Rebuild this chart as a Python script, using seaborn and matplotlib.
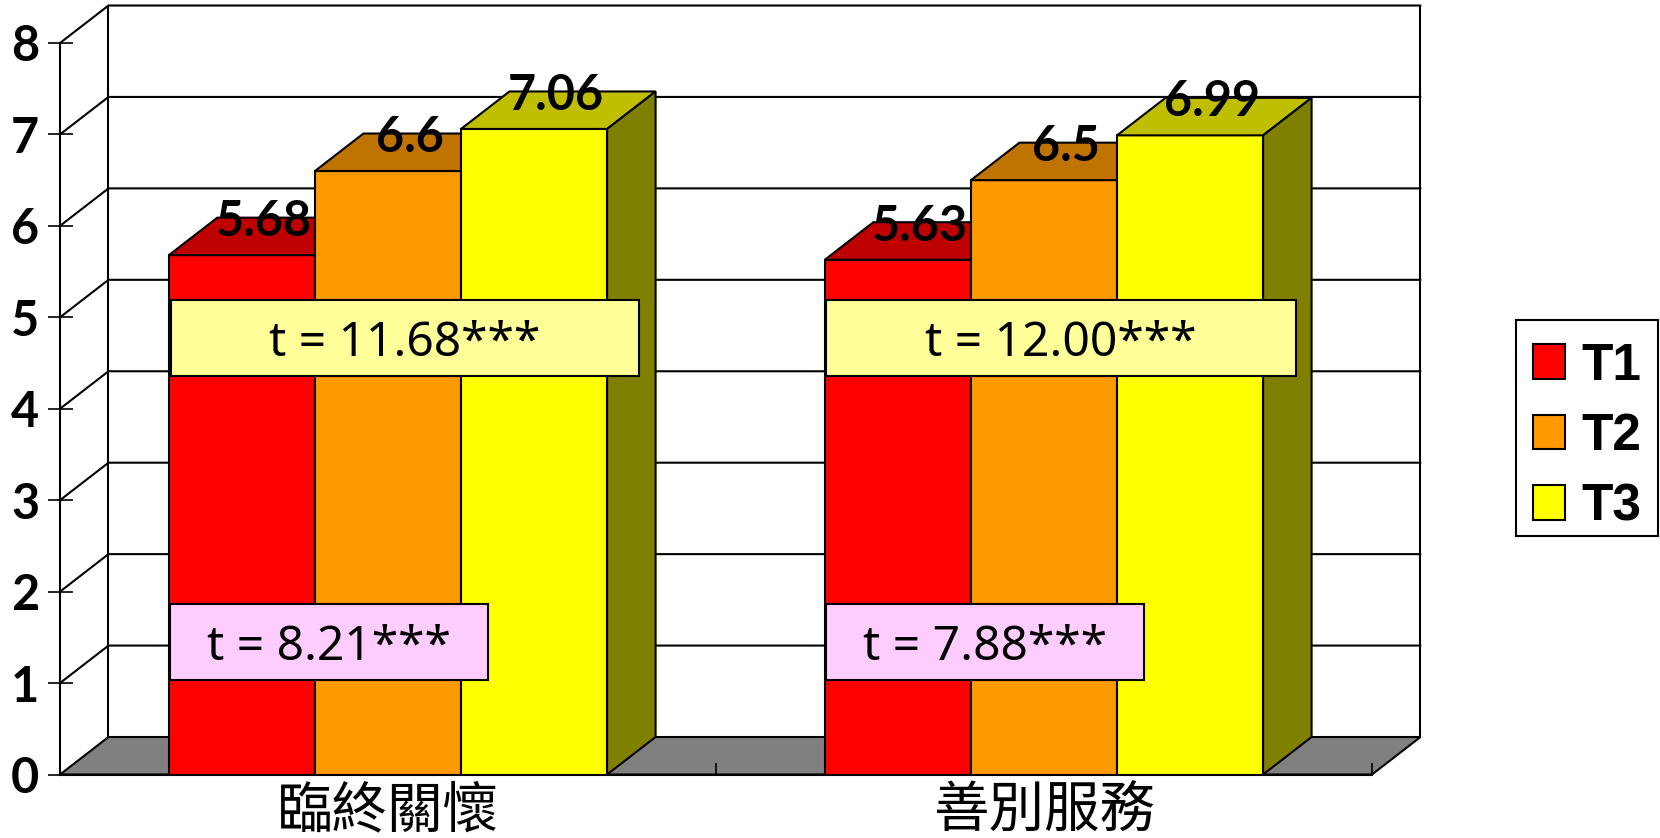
import pandas as pd
import seaborn as sns
import matplotlib.pyplot as plt
from matplotlib.patches import Polygon, Rectangle

categories = ['臨終關懷', '善別服務']
times = ['T1', 'T2', 'T3']
t1_scores = [5.68, 5.63]
t2_scores = [6.6, 6.5]
t3_scores = [7.06, 6.99]
y_ticks = [0, 1, 2, 3, 4, 5, 6, 7, 8]
upper_tests = ['t = 11.68***', 't = 12.00***']
lower_tests = ['t = 8.21***', 't = 7.88***']

W, H = 1660, 838
# 3d depth of the chart, in data units
DX, DY = 0.0739, 0.41
front = ['#FF0000', '#FF9900', '#FFFF00']
top = ['#BF0000', '#BF7300', '#BFBF00']
side = ['#800000', '#806000', '#808000']

df = pd.DataFrame({
    'category': categories * 3,
    'time': [t for t in times for _ in categories],
    'score': t1_scores + t2_scores + t3_scores,
})

sns.set_theme(style='white')
plt.rcParams['font.family'] = ['Lato', 'DejaVu Sans']

fig = plt.figure(figsize=(W / 100, H / 100), dpi=100, facecolor='white')
ax = fig.add_axes([60 / W, 1 - 774.5 / H, 1312 / W, 731.5 / H])

sns.barplot(data=df, x='category', y='score', hue='time', hue_order=times,
            palette=front, saturation=1, width=0.668, gap=0,
            edgecolor='black', linewidth=1.5, ax=ax)

ax.set_xlim(-0.5, 1.5)
ax.set_ylim(0, 8)
ax.set_xlabel('')
ax.set_ylabel('')
ax.set_axisbelow(False)
sns.despine(ax=ax, top=True, right=True)
for s in ['left', 'bottom']:
    ax.spines[s].set_linewidth(1.5)
    ax.spines[s].set_color('black')

# floor and walls
x0, x1 = ax.get_xlim()
ax.add_patch(Polygon([(x0, 0), (x1, 0), (x1 + DX, DY), (x0 + DX, DY)], closed=True,
                     facecolor='#808080', edgecolor='black', lw=1.5, zorder=1, clip_on=False))
for k in y_ticks[1:]:
    ax.plot([x0, x0 + DX, x1 + DX], [k, k + DY, k + DY], color='black', lw=1.5,
            zorder=1, clip_on=False, solid_joinstyle='miter')
ax.plot([x0 + DX, x0 + DX], [DY, 8 + DY], color='black', lw=1.5, zorder=1, clip_on=False)
ax.plot([x1 + DX, x1 + DX], [DY, 8 + DY], color='black', lw=1.5, zorder=1, clip_on=False)

# top and side faces for the bars, plus value labels
for i, cont in enumerate(ax.containers):
    for bar, v in zip(cont.patches, cont.datavalues):
        bar.set_zorder(3 + i)
        l, r = bar.get_x(), bar.get_x() + bar.get_width()
        ax.add_patch(Polygon([(l, v), (r, v), (r + DX, v + DY), (l + DX, v + DY)], closed=True,
                             facecolor=top[i], edgecolor='black', lw=1.5, zorder=3 + i, clip_on=False))
        ax.add_patch(Polygon([(r, 0), (r + DX, DY), (r + DX, v + DY), (r, v)], closed=True,
                             facecolor=side[i], edgecolor='black', lw=1.5, zorder=3 + i, clip_on=False))
        ax.text((l + r) / 2 + DX * 0.45, v + DY, f'{v:g}', ha='center', va='center_baseline',
                fontsize=35, fontweight='bold', color='black', zorder=10)

ax.set_yticks(y_ticks)
ax.tick_params(axis='y', direction='inout', length=18, width=1.2, color='black', pad=6,
               left=True, labelsize=35, labelcolor='black')
for lab in ax.get_yticklabels():
    lab.set_fontweight('bold')

ax.set_xticks([0.5, 1.5], minor=True)
ax.tick_params(axis='x', which='minor', direction='in', length=9, width=1.2, color='black', bottom=True)
ax.tick_params(axis='x', which='major', length=0, pad=6, labelcolor='black')
ax.set_xticks(range(len(categories)))
ax.set_xticklabels(categories, fontsize=40, family=['Noto Sans CJK TC', 'DejaVu Sans'])


def add_box(left, right, ytop, ybot, color, label):
    fig.add_artist(Rectangle((left / W, 1 - ybot / H), (right - left) / W, (ybot - ytop) / H,
                             transform=fig.transFigure, facecolor=color, edgecolor='black',
                             lw=1.5, zorder=20))
    fig.text((left + right) / 2 / W, 1 - (ytop + ybot) / 2 / H, label, ha='center',
             va='center_baseline', fontsize=34.5, family='Noto Sans', color='black', zorder=21)


add_box(171, 639, 300, 376, '#FFFF99', upper_tests[0])
add_box(826, 1296, 300, 376, '#FFFF99', upper_tests[1])
add_box(170, 488, 604, 680, '#FFCCFF', lower_tests[0])
add_box(826, 1144, 604, 680, '#FFCCFF', lower_tests[1])

# legend, with its frame drawn separately to get the uneven padding
fig.add_artist(Rectangle((1516 / W, 1 - 536 / H), 142 / W, 216 / H, transform=fig.transFigure,
                         facecolor='white', edgecolor='black', lw=1.5, zorder=-1))
handles, labels = ax.get_legend_handles_labels()
ax.legend(handles, labels, loc='upper left', bbox_to_anchor=(1514 / W, 1 - 323 / H),
          bbox_transform=fig.transFigure, borderaxespad=0, frameon=False, title=None,
          prop={'family': 'Liberation Sans', 'weight': 'bold', 'size': 37},
          labelcolor='black', handlelength=0.64, handleheight=0.66, handletextpad=0.31,
          labelspacing=0.42, borderpad=0.36)

fig.savefig('out.png', dpi=100)
